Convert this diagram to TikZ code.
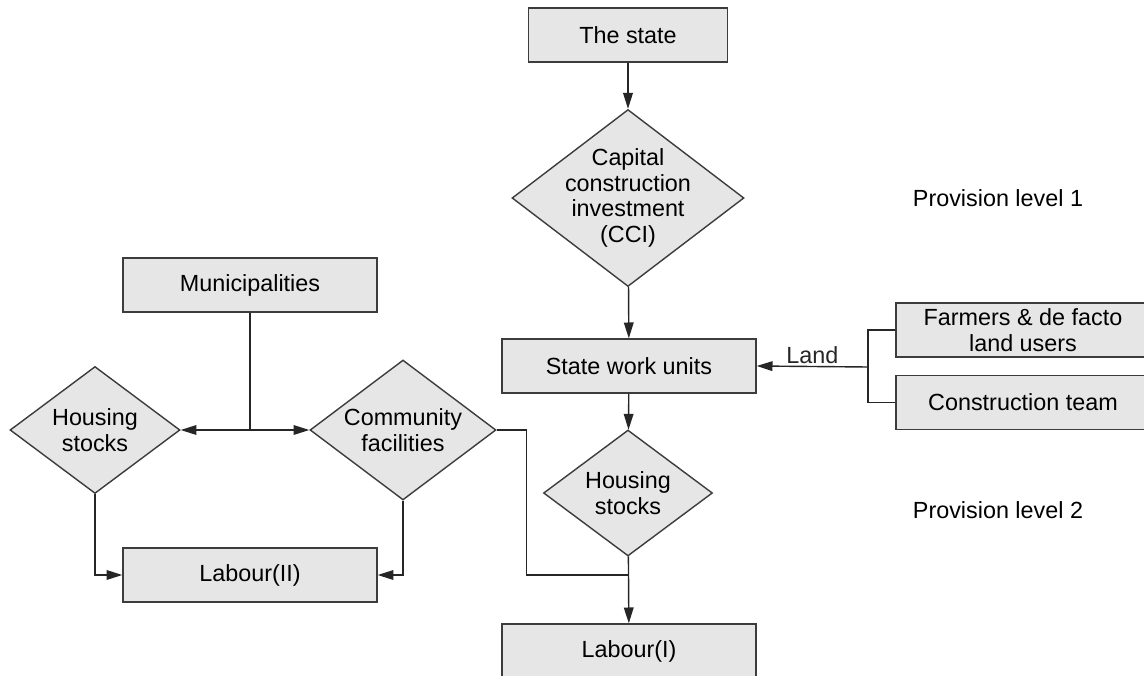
\documentclass[tikz,border=0pt]{standalone}
\usepackage{fontspec}
\setmainfont{Liberation Sans}
\usepackage{xcolor}
\usetikzlibrary{arrows.meta, positioning, shapes.geometric}

\definecolor{boxfill}{RGB}{230,230,230}
\definecolor{boxline}{RGB}{60,60,60}

\tikzset{
    txt/.style={font=\fontsize{13.3}{14.6}\selectfont, align=center},
    box/.style={txt, draw=boxline, fill=boxfill, line width=0.8pt,
        minimum width=5.08cm, minimum height=1.08cm, inner sep=0pt},
    dia/.style={diamond, draw=boxline, fill=boxfill, line width=0.8pt,
        inner sep=0pt},
    arr/.style={-{Triangle[length=9pt, width=5.5pt]}},
    link/.style={line width=0.8pt, black!85}
}

\begin{document}
\begin{tikzpicture}[x=0.02cm, y=-0.02cm]

    \useasboundingbox (0,0) rectangle (1144,676);
    \clip (0,0) rectangle (1144,676);

    % Main column
    \node[box, minimum width=3.98cm] (state) at (628,35) {The state};
    \node[dia, minimum width=4.64cm, minimum height=3.54cm,
        label={[txt]center:Capital\\construction\\investment\\(CCI)}]
        (cci) at (628,198) {};
    \node[box] (swu) at (629,366) {State work units};
    \node[dia, minimum width=3.38cm, minimum height=2.52cm,
        label={[txt]center:Housing\\stocks}] (hsmid) at (628,493) {};
    \node[box] (lab1) at (629,651) {Labour(I)};

    % Municipalities branch
    \node[box] (mun) at (250,285) {Municipalities};
    \node[dia, minimum width=3.4cm, minimum height=2.54cm,
        label={[txt]center:Housing\\stocks}] (hsleft) at (95,430) {};
    \node[dia, minimum width=3.72cm, minimum height=2.8cm,
        label={[txt]center:Community\\facilities}] (comfac) at (403,430) {};
    \node[box] (lab2) at (250,575) {Labour(II)};

    % Land suppliers
    \node[box] (farmers) at (1023,330) {Farmers \& de facto\\land users};
    \node[box] (team) at (1023,402.5) {Construction team};

    % Provision levels
    \node[txt] (lvlone) at (998,198) {Provision level 1};
    \node[txt] (lvltwo) at (998,510) {Provision level 2};

    % Junctions
    \coordinate (msplit) at (mun.south |- hsleft.east);
    \coordinate (landfork) at (868,367);
    \coordinate (joinone) at (628,575);

    % Connectors
    \draw[link, arr] (state) -- (cci);
    \draw[link, arr] (cci) -- (swu);
    \draw[link, arr] (swu) -- (hsmid);
    \draw[link, arr] (hsmid) -- (lab1);
    \draw[link] (comfac.east) -- ++(30,0) |- (joinone);

    \draw[link] (mun) -- (msplit);
    \draw[link, arr] (msplit) -- (hsleft.east);
    \draw[link, arr] (msplit) -- (comfac.west);
    \draw[link, arr] (hsleft.south) |- (lab2.west);
    \draw[link, arr] (comfac.south) |- (lab2.east);

    \draw[link] (farmers.west) -| (landfork);
    \draw[link] (team.west) -| (landfork);
    \draw[link, arr] (landfork) -- node[txt, above, inner sep=1pt] {Land}
        (swu.east);

\end{tikzpicture}
\end{document}
